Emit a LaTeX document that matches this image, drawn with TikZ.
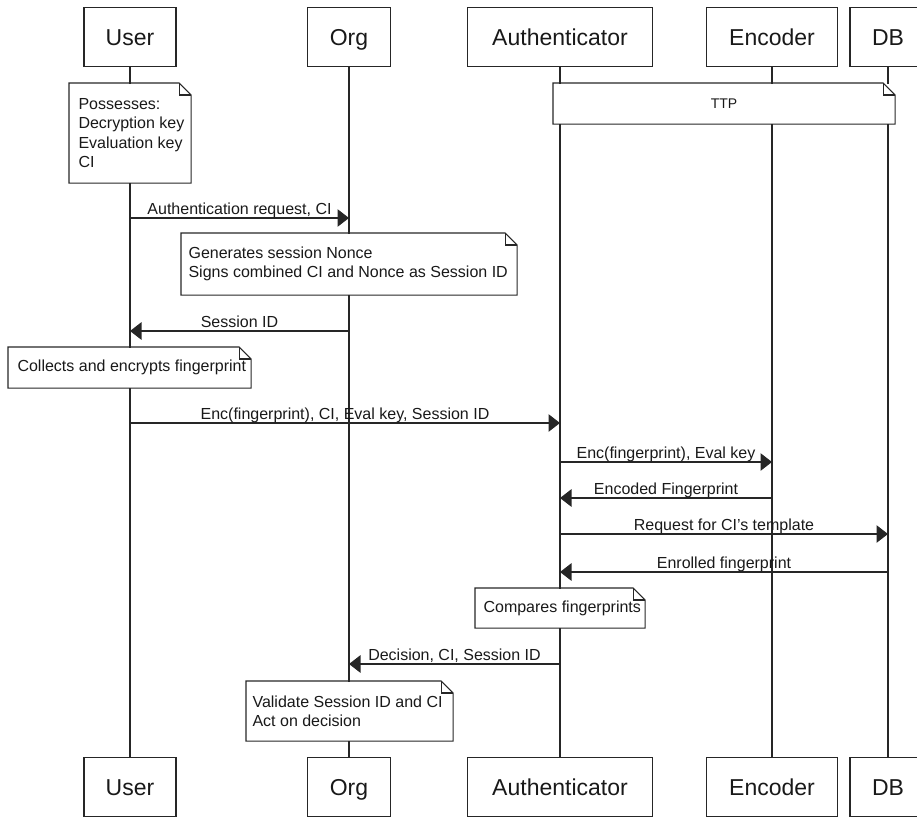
\documentclass[tikz,border=0pt]{standalone}
\usepackage{fontspec}
\setmainfont{Liberation Sans}
\usetikzlibrary{arrows.meta}

\begin{document}
\begin{tikzpicture}[x=1pt,y=-1pt,
  line width=1.1pt,
  actor/.style={draw=black!85, fill=white, minimum height=59pt, inner sep=0pt,
    text height=17pt, text depth=0pt,
    font=\fontsize{23}{27}\selectfont, text=black!90, anchor=north},
  notebg/.style={fill=white, inner sep=0pt, anchor=north west},
  notetxt/.style={inner sep=0pt, anchor=west, align=left,
    font=\fontsize{16}{19.5}\selectfont, text=black!90},
  life/.style={draw=black!85},
  msg/.style={draw=black!85, -{Triangle[length=11.5pt 0 0,width=17.5pt 0 0]}},
  lbl/.style={font=\fontsize{16}{19.5}\selectfont, text=black!90, anchor=base,
    inner sep=0pt, yshift=4pt}
]
\useasboundingbox (0,0) rectangle (917,816);
\clip (0,0) rectangle (917,816);

% participants, top and bottom
\node[actor, minimum width=92pt]  (uT) at (130,7) {User};
\node[actor, minimum width=83pt]  (oT) at (349,7) {Org};
\node[actor, minimum width=185pt] (aT) at (560,7) {Authenticator};
\node[actor, minimum width=131pt] (eT) at (772,7) {Encoder};
\node[actor, minimum width=76pt]  (dT) at (888,7) {DB};

\node[actor, minimum width=92pt]  (uB) at (130,757) {User};
\node[actor, minimum width=83pt]  (oB) at (349,757) {Org};
\node[actor, minimum width=185pt] (aB) at (560,757) {Authenticator};
\node[actor, minimum width=131pt] (eB) at (772,757) {Encoder};
\node[actor, minimum width=76pt]  (dB) at (888,757) {DB};

% lifelines
\foreach \p in {u,o,a,e,d}
  \draw[life] (\p T.south) -- (\p B.north);

% note with folded corner: name, x, y, width, height
\newcommand\foldnote[5]{%
  \node[notebg, minimum width=#4pt, minimum height=#5pt] (#1) at (#2,#3) {};
  \draw[draw=black!85] (#1.north west) -- ([xshift=-12pt]#1.north east)
    -- ([yshift=-12pt]#1.north east) -- (#1.south east) -- (#1.south west) -- cycle;
  \draw[draw=black!85] ([xshift=-12pt]#1.north east) |- ([yshift=-12pt]#1.north east);
}

\foldnote{nUser}{69}{83}{121}{99}
\node[notetxt] (tUser) at ([xshift=9pt]nUser.west)
  {Possesses:\\Decryption key\\Evaluation key\\CI};

\foldnote{nTTP}{553}{83}{341}{40}
\node[notetxt, anchor=center] (tTTP) at (nTTP.center) {\fontsize{14}{17}\selectfont TTP};

\foldnote{nOrg}{181}{233}{335}{61}
\node[notetxt] (tOrg) at ([xshift=7pt]nOrg.west)
  {Generates session Nonce\\Signs combined CI and Nonce as Session ID};

\foldnote{nCol}{8}{347}{242}{40}
\node[notetxt] (tCol) at ([xshift=9pt]nCol.west) {Collects and encrypts fingerprint};

\foldnote{nCmp}{475}{588}{169}{39}
\node[notetxt] (tCmp) at ([xshift=8pt]nCmp.west) {Compares fingerprints};

\foldnote{nVal}{246}{681}{206}{59}
\node[notetxt] (tVal) at ([xshift=6pt]nVal.west)
  {Validate Session ID and CI\\Act on decision};

% message end points on the lifelines
\coordinate (u1) at (130,218); \coordinate (o1) at (349,218);
\coordinate (o2) at (349,331); \coordinate (u2) at (130,331);
\coordinate (u3) at (130,423); \coordinate (a3) at (560,423);
\coordinate (a4) at (560,462); \coordinate (e4) at (772,462);
\coordinate (e5) at (772,498); \coordinate (a5) at (560,498);
\coordinate (a6) at (560,534); \coordinate (d6) at (888,534);
\coordinate (d7) at (888,572); \coordinate (a7) at (560,572);
\coordinate (a8) at (560,664); \coordinate (o8) at (349,664);

% messages
\draw[msg] (u1) -- node[lbl] {Authentication request, CI} (o1);
\draw[msg] (o2) -- node[lbl] {Session ID} (u2);
\draw[msg] (u3) -- node[lbl] {Enc(fingerprint), CI, Eval key, Session ID} (a3);
\draw[msg] (a4) -- node[lbl] {Enc(fingerprint), Eval key} (e4);
\draw[msg] (e5) -- node[lbl] {Encoded Fingerprint} (a5);
\draw[msg] (a6) -- node[lbl] {Request for CI's template} (d6);
\draw[msg] (d7) -- node[lbl] {Enrolled fingerprint} (a7);
\draw[msg] (a8) -- node[lbl] {Decision, CI, Session ID} (o8);
\end{tikzpicture}
\end{document}
